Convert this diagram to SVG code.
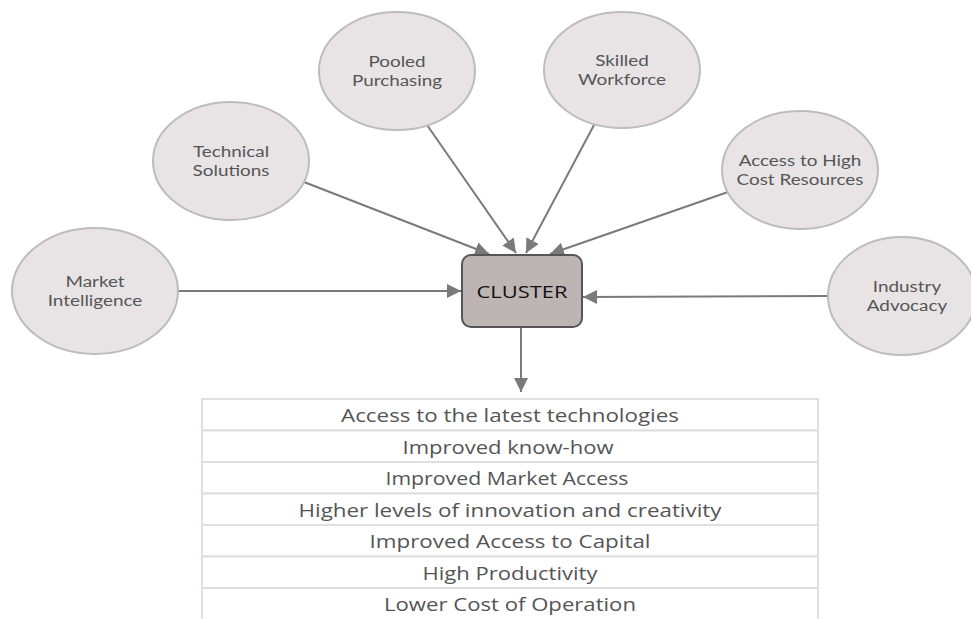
<svg xmlns="http://www.w3.org/2000/svg" width="971" height="619" viewBox="0 0 971 619">
<defs>
<style>
.bub{fill:#e8e4e6;stroke:#bfbbbb;stroke-width:2}
.lbl{font-family:Lato,"Open Sans",sans-serif;font-size:16px;fill:#555;text-anchor:middle}
.con{stroke:#7a7a7a;stroke-width:2;fill:none;marker-end:url(#ah)}
.row{fill:#fff;stroke:#e2dede;stroke-width:2}
.rt{font-family:"Open Sans",sans-serif;font-size:18px;fill:#555;text-anchor:middle}
</style>
<marker id="ah" viewBox="0 0 10 10" refX="10" refY="5" markerWidth="7" markerHeight="7" markerUnits="strokeWidth" orient="auto">
<path d="M0,0 L10,5 L0,10 z" fill="#7a7a7a"/>
</marker>
</defs>
<rect width="971" height="619" fill="#fff"/>
<g id="connectors">
<line class="con" x1="178" y1="291" x2="461" y2="291"/>
<line class="con" x1="828" y1="296" x2="583" y2="297"/>
<line class="con" x1="304" y1="182" x2="489" y2="254"/>
<line class="con" x1="427" y1="125" x2="516" y2="253"/>
<line class="con" x1="594" y1="125" x2="526" y2="253"/>
<line class="con" x1="728" y1="192" x2="550" y2="254"/>
<line class="con" x1="521" y1="327" x2="521" y2="392"/>
</g>
<g id="market">
<ellipse class="bub" cx="95" cy="291" rx="83" ry="63"/>
<text class="lbl" transform="translate(95 0) scale(1.18 1)" x="0" y="287">Market</text>
<text class="lbl" transform="translate(95 0) scale(1.18 1)" x="0" y="306">Intelligence</text>
</g>
<g id="technical">
<ellipse class="bub" cx="231" cy="161" rx="78" ry="59"/>
<text class="lbl" transform="translate(231 0) scale(1.18 1)" x="0" y="157">Technical</text>
<text class="lbl" transform="translate(231 0) scale(1.18 1)" x="0" y="176">Solutions</text>
</g>
<g id="pooled">
<ellipse class="bub" cx="397" cy="71" rx="78" ry="59"/>
<text class="lbl" transform="translate(397 0) scale(1.18 1)" x="0" y="67">Pooled</text>
<text class="lbl" transform="translate(397 0) scale(1.18 1)" x="0" y="86">Purchasing</text>
</g>
<g id="skilled">
<ellipse class="bub" cx="622" cy="70" rx="78" ry="58"/>
<text class="lbl" transform="translate(622 0) scale(1.18 1)" x="0" y="66">Skilled</text>
<text class="lbl" transform="translate(622 0) scale(1.18 1)" x="0" y="85">Workforce</text>
</g>
<g id="access">
<ellipse class="bub" cx="800" cy="170" rx="78" ry="59"/>
<text class="lbl" transform="translate(800 0) scale(1.18 1)" x="0" y="166">Access to High</text>
<text class="lbl" transform="translate(800 0) scale(1.18 1)" x="0" y="185">Cost Resources</text>
</g>
<g id="advocacy">
<ellipse class="bub" cx="902" cy="296" rx="74" ry="59"/>
<text class="lbl" transform="translate(907 0) scale(1.18 1)" x="0" y="292">Industry</text>
<text class="lbl" transform="translate(907 0) scale(1.18 1)" x="0" y="311">Advocacy</text>
</g>
<g id="cluster">
<rect x="462" y="255" width="120" height="72" rx="9" fill="#bdb5b3" stroke="#555" stroke-width="2"/>
<text x="522" y="298" font-family="'Open Sans',sans-serif" font-size="17px" fill="#111" text-anchor="middle" textLength="91" lengthAdjust="spacingAndGlyphs">CLUSTER</text>
</g>
<g id="benefits">
<rect class="row" x="202" y="399" width="616" height="31.5"/>
<rect class="row" x="202" y="430.5" width="616" height="31.5"/>
<rect class="row" x="202" y="462" width="616" height="31.5"/>
<rect class="row" x="202" y="493.5" width="616" height="31.5"/>
<rect class="row" x="202" y="525" width="616" height="31.5"/>
<rect class="row" x="202" y="556.5" width="616" height="31.5"/>
<rect class="row" x="202" y="588" width="616" height="33"/>
<text class="rt" x="510" y="422" textLength="338" lengthAdjust="spacingAndGlyphs">Access to the latest technologies</text>
<text class="rt" x="508" y="453.5" textLength="211" lengthAdjust="spacingAndGlyphs">Improved know-how</text>
<text class="rt" x="507" y="485" textLength="243" lengthAdjust="spacingAndGlyphs">Improved Market Access</text>
<text class="rt" x="510" y="516.5" textLength="423" lengthAdjust="spacingAndGlyphs">Higher levels of innovation and creativity</text>
<text class="rt" x="510" y="548" textLength="281" lengthAdjust="spacingAndGlyphs">Improved Access to Capital</text>
<text class="rt" x="510" y="579.5" textLength="175" lengthAdjust="spacingAndGlyphs">High Productivity</text>
<text class="rt" x="510" y="611" textLength="252" lengthAdjust="spacingAndGlyphs">Lower Cost of Operation</text>
</g>
</svg>
